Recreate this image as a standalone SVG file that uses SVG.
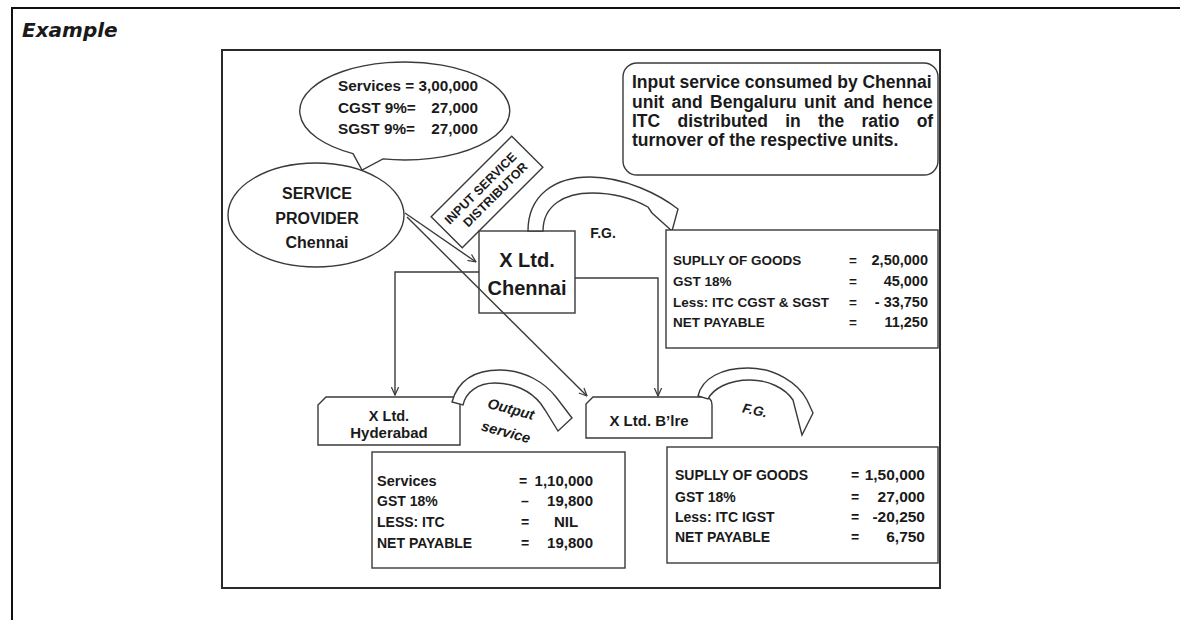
<svg xmlns="http://www.w3.org/2000/svg" width="1180" height="620" viewBox="0 0 1180 620">
<style>
.frame{fill:none;stroke:#111;stroke-width:2}
.iframe{fill:none;stroke:#2a2a2a;stroke-width:2}
.ln{fill:none;stroke:#3a3a3a;stroke-width:1.4}
.box{fill:#fff;stroke:#3a3a3a;stroke-width:1.4}
.t{font-family:"Liberation Sans",Arial,sans-serif;font-weight:bold;fill:#1a1a1a}
.m{text-anchor:middle}
.e{text-anchor:end}
</style>
<defs>
<marker id="arr" viewBox="0 0 10 10" refX="9.3" refY="5" markerWidth="9" markerHeight="9" orient="auto" markerUnits="userSpaceOnUse">
<path d="M0.5,1 L9.3,5 L0.5,9" fill="none" stroke="#3a3a3a" stroke-width="1.4"/>
</marker>
</defs>
<rect width="1180" height="620" fill="#fff"/>
<path class="frame" d="M12,620 L12,8 L1180,8"/>
<text class="t" x="22" y="37" font-size="20" font-style="italic" style="font-family:'DejaVu Sans',sans-serif">Example</text>
<rect class="iframe" x="222" y="50" width="718" height="538"/>

<g id="bubble">
<path class="box" d="M353,153.6 A105,49 0 1 1 383,158.9 L362,170 Z"/>
<text class="t" x="338" y="90.5" font-size="15.3">Services = 3,00,000</text>
<text class="t" x="338" y="112.5" font-size="15.3">CGST 9%=</text>
<text class="t e" x="478" y="112.5" font-size="15.3">27,000</text>
<text class="t" x="338" y="133.5" font-size="15.3">SGST 9%=</text>
<text class="t e" x="478" y="133.5" font-size="15.3">27,000</text>
</g>

<g id="service-provider">
<ellipse class="box" cx="316" cy="215" rx="88" ry="52"/>
<text class="t m" x="317" y="199" font-size="16">SERVICE</text>
<text class="t m" x="317" y="224" font-size="16">PROVIDER</text>
<text class="t m" x="317" y="248" font-size="16">Chennai</text>
</g>

<g id="isd-label" transform="translate(487,192) rotate(-45)">
<rect class="box" x="-57" y="-22" width="114" height="44"/>
<text class="t m" x="-2" y="-3" font-size="12.5">INPUT SERVICE</text>
<text class="t m" x="4" y="12" font-size="12.5">DISTRIBUTOR</text>
</g>

<g id="note">
<rect class="box" x="623" y="63" width="315" height="112" rx="14"/>
<text class="t" x="632" y="88" font-size="17.5">Input service consumed by Chennai</text>
<text class="t" x="632" y="108" font-size="17.5" word-spacing="2.6">unit and Bengaluru unit and hence</text>
<text class="t" x="632" y="127" font-size="17.5" word-spacing="12.4">ITC distributed in the ratio of</text>
<text class="t" x="632" y="146" font-size="17.5">turnover of the respective units.</text>
</g>

<g id="chennai">
<rect class="box" x="479" y="231" width="96" height="82"/>
<text class="t m" x="527" y="267" font-size="20">X Ltd.</text>
<text class="t m" x="527" y="295" font-size="20">Chennai</text>
</g>

<g id="fg-arc-top">
<path class="box" d="M528,231 C528,195 555,177 590,177 C625,177 660,195 678,209 L672,231 L652,213 L648,207 C630,197 612,193 592,193 C565,193 543,205 543,231 Z"/>
<text class="t m" x="603" y="238" font-size="14">F.G.</text>
</g>

<g id="chennai-supply">
<rect class="box" x="666" y="230" width="272" height="118"/>
<text class="t" x="673" y="265" font-size="13.5">SUPLLY OF GOODS</text>
<text class="t" x="673" y="286" font-size="13.5">GST 18%</text>
<text class="t" x="673" y="307" font-size="13.5">Less: ITC CGST &amp; SGST</text>
<text class="t" x="673" y="327" font-size="13.5">NET PAYABLE</text>
<text class="t m" x="853" y="265" font-size="13.5">=</text>
<text class="t m" x="853" y="286" font-size="13.5">=</text>
<text class="t m" x="853" y="307" font-size="13.5">=</text>
<text class="t m" x="853" y="327" font-size="13.5">=</text>
<text class="t e" x="928" y="265" font-size="14.5">2,50,000</text>
<text class="t e" x="928" y="286" font-size="14.5">45,000</text>
<text class="t e" x="928" y="307" font-size="14.5">- 33,750</text>
<text class="t e" x="928" y="327" font-size="14.5">11,250</text>
</g>

<g id="hyderabad">
<path class="box" d="M326,397 H460 V445 H318 V405 Z"/>
<text class="t m" x="389" y="421" font-size="14.5">X Ltd.</text>
<text class="t m" x="389" y="438" font-size="15">Hyderabad</text>
</g>

<g id="output-arc">
<path class="box" d="M452,402 C458,380 475,370 500,370 C525,370 545,383 556,397 L572,418 L558,431 L545,410 L541,404 C530,390 513,383 495,383 C478,383 466,392 463,405 Z"/>
<text class="t m" font-size="14.5" font-style="italic" transform="translate(511,409) rotate(15)" y="5">Output</text>
<text class="t m" font-size="14.5" font-style="italic" transform="translate(506,432) rotate(15)" y="5">service</text>
</g>

<g id="bangalore">
<path class="box" d="M593,397 H704 Q712,397 712,405 V438 H586 V404 Z"/>
<text class="t m" x="649" y="426" font-size="15">X Ltd. B’lre</text>
</g>

<g id="fg-arc-bottom">
<path class="box" d="M698,396 C702,378 722,368 748,368 C775,368 798,383 807,400 L813,413 L802,435 L793,400 C785,388 768,380 750,380 C728,380 713,389 708,399 Z"/>
<text class="t m" font-size="13.5" font-style="italic" transform="translate(755,410) rotate(12)" y="5">F.G.</text>
</g>

<g id="services-box">
<rect class="box" x="372" y="452" width="253" height="116"/>
<text class="t" x="377" y="486" font-size="14.5">Services</text>
<text class="t" x="377" y="506" font-size="14">GST 18%</text>
<text class="t" x="377" y="527" font-size="14">LESS: ITC</text>
<text class="t" x="377" y="548" font-size="14">NET PAYABLE</text>
<text class="t m" x="523" y="486" font-size="14">=</text>
<text class="t m" x="525" y="506" font-size="14">–</text>
<text class="t m" x="525" y="527" font-size="14">=</text>
<text class="t m" x="525" y="548" font-size="14">=</text>
<text class="t e" x="593" y="486" font-size="15">1,10,000</text>
<text class="t e" x="593" y="506" font-size="15">19,800</text>
<text class="t m" x="566" y="527" font-size="15">NIL</text>
<text class="t e" x="593" y="548" font-size="15">19,800</text>
</g>

<g id="blr-supply">
<rect class="box" x="667" y="447" width="271" height="116"/>
<text class="t" x="675" y="480" font-size="14">SUPLLY OF GOODS</text>
<text class="t" x="675" y="502" font-size="14">GST 18%</text>
<text class="t" x="675" y="522" font-size="14">Less: ITC IGST</text>
<text class="t" x="675" y="542" font-size="14">NET PAYABLE</text>
<text class="t m" x="855" y="480" font-size="14">=</text>
<text class="t m" x="855" y="502" font-size="14">=</text>
<text class="t m" x="855" y="522" font-size="14">=</text>
<text class="t m" x="855" y="542" font-size="14">=</text>
<text class="t e" x="925" y="480" font-size="15.5">1,50,000</text>
<text class="t e" x="925" y="502" font-size="15.5">27,000</text>
<text class="t e" x="925" y="522" font-size="15.5">-20,250</text>
<text class="t e" x="925" y="542" font-size="15.5">6,750</text>
</g>

<g id="connectors">
<path class="ln" d="M479,272 H395 V395" marker-end="url(#arr)"/>
<path class="ln" d="M575,278 H658 V396" marker-end="url(#arr)"/>
<path class="ln" d="M405,213 L476,262" marker-end="url(#arr)"/>
<path class="ln" d="M407,217 L587,396" marker-end="url(#arr)"/>
</g>
</svg>
